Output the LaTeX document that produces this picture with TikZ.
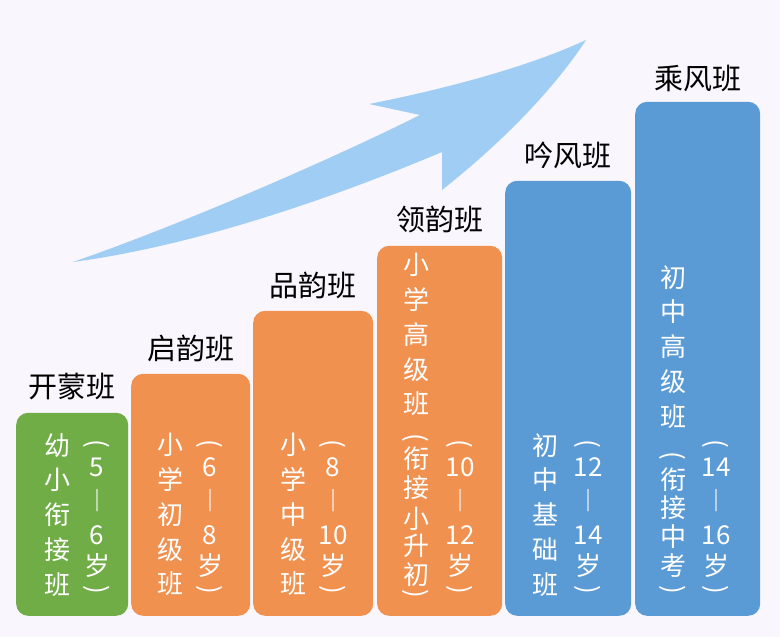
\documentclass[tikz,border=0pt]{standalone}
\usepackage{fontspec}
\setmainfont{Noto Sans CJK SC}
\usepackage{graphicx}
\usepackage{tikz}
\usetikzlibrary{positioning}
\definecolor{bgpage}{HTML}{F9F6FD}
\definecolor{greenbar}{HTML}{70AD47}
\definecolor{orangebar}{HTML}{F09150}
\definecolor{bluebar}{HTML}{5B9BD5}
\definecolor{arrowblue}{HTML}{9FCDF3}
% brackets of vertical text
\newcommand{\lparv}{\rotatebox[origin=c]{-90}{(}}
\newcommand{\rparv}{\rotatebox[origin=c]{-90}{)}}

\begin{document}
\begin{tikzpicture}[
  x=1pt,y=-1pt,
  bar/.style={rounded corners=12pt,anchor=south west,inner sep=0pt},
  lab/.style={inner sep=0pt,font=\fontsize{29}{32}\selectfont},
  col/.style={text=white,align=center,inner sep=0pt,anchor=north,font=\fontsize{26}{34.8}\selectfont},
  age/.style={col,font=\fontsize{26}{34}\selectfont},
  brk/.style={col,font=\fontsize{26}{29}\selectfont}
]
\fill[bgpage] (0,0) rectangle (780,637);
% rising arrow
\fill[arrowblue] (73,262) .. controls (180,225) and (330,160) .. (420,115)
  -- (369,104) .. controls (450,88) and (530,66) .. (586,40)
  .. controls (550,95) and (495,148) .. (442,190)
  -- (442,152) .. controls (340,195) and (200,245) .. (73,262) -- cycle;
% bars
\node[bar,fill=greenbar,minimum width=112,minimum height=203] (kaimeng) at (16,616) {};
\node[bar,fill=orangebar,minimum width=119,minimum height=242] (qiyun) at (131,616) {};
\node[bar,fill=orangebar,minimum width=120,minimum height=305] (pinyun) at (253,616) {};
\node[bar,fill=orangebar,minimum width=125,minimum height=370] (lingyun) at (377,616) {};
\node[bar,fill=bluebar,minimum width=126,minimum height=435] (yinfeng) at (505,616) {};
\node[bar,fill=bluebar,minimum width=125,minimum height=514] (chengfeng) at (635,616) {};
% class names
\node[lab,above=12pt of kaimeng] (kaimenglab) {开蒙班};
\node[lab,above=12pt of qiyun] (qiyunlab) {启韵班};
\node[lab,above=12pt of pinyun] (pinyunlab) {品韵班};
\node[lab,above=12pt of lingyun] (lingyunlab) {领韵班};
\node[lab,above=12pt of yinfeng] (yinfenglab) {吟风班};
\node[lab,above=10pt of chengfeng] (chengfenglab) {乘风班};
% stage and age
\node[col] (kaimengname) at (57,433) {幼\\小\\衔\\接\\班};
\node[age] (kaimengage) at (97,439) {\lparv\\[-9pt]5\\︱\\6\\[-3pt]岁\\[-12pt]\rparv};
\node[col] (qiyunname) at (170,433) {小\\学\\初\\级\\班};
\node[age] (qiyunage) at (210,439) {\lparv\\[-9pt]6\\︱\\8\\[-3pt]岁\\[-12pt]\rparv};
\node[col] (pinyunname) at (293,433) {小\\学\\中\\级\\班};
\node[age] (pinyunage) at (333,439) {\lparv\\[-9pt]8\\︱\\10\\[-3pt]岁\\[-12pt]\rparv};
\node[col] (lingyunname) at (416,253) {小\\学\\高\\级\\班};
\node[brk] (lingyunnote) at (416,433) {\lparv\\[-6pt]衔\\接\\[2pt]小\\[-2pt]升\\初\\[-12pt]\rparv};
\node[age] (lingyunage) at (460,439) {\lparv\\[-9pt]10\\︱\\12\\[-3pt]岁\\[-12pt]\rparv};
\node[col] (yinfengname) at (545,433) {初\\中\\基\\础\\班};
\node[age] (yinfengage) at (588,439) {\lparv\\[-9pt]12\\︱\\14\\[-3pt]岁\\[-12pt]\rparv};
\node[col] (chengfengname) at (673,265) {初\\中\\高\\级\\班};
\node[brk] (chengfengnote) at (673,451) {\lparv\\[-3pt]衔\\[-1pt]接\\中\\考\\[-7pt]\rparv};
\node[age] (chengfengage) at (716,439) {\lparv\\[-9pt]14\\︱\\16\\[-3pt]岁\\[-12pt]\rparv};
\end{tikzpicture}
\end{document}
